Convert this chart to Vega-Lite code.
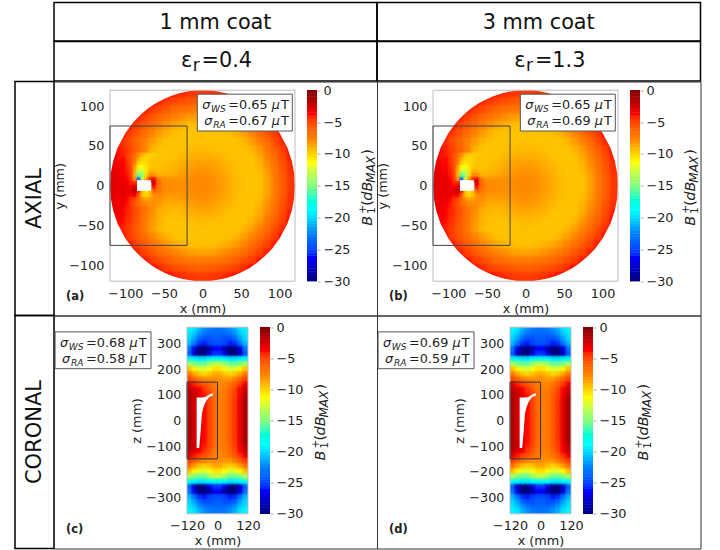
{"$schema":"https://vega.github.io/schema/vega-lite/v6.json","padding":{"left":14,"top":1.5,"right":0,"bottom":0},"autosize":{"type":"pad"},"background":"white","columns":3,"spacing":0,"bounds":"flush",
"config":{"font":"DejaVu Sans","view":{"stroke":null},"axis":{"labelFontSize":12.8,"titleFontSize":12.8,"titleFontWeight":"normal","labelColor":"#222","titleColor":"#222","tickColor":"#aaa","tickSize":3,"domain":false,"grid":false,"labelPadding":3,"titlePadding":2,"labelOverlap":false,"labelBound":false,"labelFlush":false,"tickCount":20,"zindex":1},"text":{"align":"left","baseline":"alphabetic","fontSize":12.8,"color":"#222"}},
"datasets":{
"one":[{"n":1}],
"cb":[{"v":-29.75},{"v":-29.25},{"v":-28.75},{"v":-28.25},{"v":-27.75},{"v":-27.25},{"v":-26.75},{"v":-26.25},{"v":-25.75},{"v":-25.25},{"v":-24.75},{"v":-24.25},{"v":-23.75},{"v":-23.25},{"v":-22.75},{"v":-22.25},{"v":-21.75},{"v":-21.25},{"v":-20.75},{"v":-20.25},{"v":-19.75},{"v":-19.25},{"v":-18.75},{"v":-18.25},{"v":-17.75},{"v":-17.25},{"v":-16.75},{"v":-16.25},{"v":-15.75},{"v":-15.25},{"v":-14.75},{"v":-14.25},{"v":-13.75},{"v":-13.25},{"v":-12.75},{"v":-12.25},{"v":-11.75},{"v":-11.25},{"v":-10.75},{"v":-10.25},{"v":-9.75},{"v":-9.25},{"v":-8.75},{"v":-8.25},{"v":-7.75},{"v":-7.25},{"v":-6.75},{"v":-6.25},{"v":-5.75},{"v":-5.25},{"v":-4.75},{"v":-4.25},{"v":-3.75},{"v":-3.25},{"v":-2.75},{"v":-2.25},{"v":-1.75},{"v":-1.25},{"v":-0.75},{"v":-0.25}],
"rim":[{"x":-126,"top":0,"bot":0},{"x":-120,"top":0,"bot":0},{"x":-119,"top":15.4,"bot":-15.4},{"x":-116,"top":30.7,"bot":-30.7},{"x":-110,"top":48,"bot":-48},{"x":-100,"top":66.3,"bot":-66.3},{"x":-90,"top":79.4,"bot":-79.4},{"x":-80,"top":89.4,"bot":-89.4},{"x":-70,"top":97.5,"bot":-97.5},{"x":-60,"top":103.9,"bot":-103.9},{"x":-50,"top":109.1,"bot":-109.1},{"x":-40,"top":113.1,"bot":-113.1},{"x":-30,"top":116.2,"bot":-116.2},{"x":-20,"top":118.3,"bot":-118.3},{"x":-10,"top":119.6,"bot":-119.6},{"x":0,"top":120,"bot":-120},{"x":10,"top":119.6,"bot":-119.6},{"x":20,"top":118.3,"bot":-118.3},{"x":30,"top":116.2,"bot":-116.2},{"x":40,"top":113.1,"bot":-113.1},{"x":50,"top":109.1,"bot":-109.1},{"x":60,"top":103.9,"bot":-103.9},{"x":70,"top":97.5,"bot":-97.5},{"x":80,"top":89.4,"bot":-89.4},{"x":90,"top":79.4,"bot":-79.4},{"x":100,"top":66.3,"bot":-66.3},{"x":110,"top":48,"bot":-48},{"x":116,"top":30.7,"bot":-30.7},{"x":119,"top":15.4,"bot":-15.4},{"x":120,"top":0,"bot":0},{"x":126,"top":0,"bot":0}],
"hole":[{"x":-82,"hi":90,"lo":-108},{"x":-72,"hi":90,"lo":-108},{"x":-66,"hi":90,"lo":-38},{"x":-61,"hi":90,"lo":28},{"x":-55,"hi":91,"lo":52},{"x":-49,"hi":92,"lo":67},{"x":-43,"hi":95,"lo":78},{"x":-37,"hi":99,"lo":87},{"x":-30,"hi":103,"lo":93},{"x":-18,"hi":107,"lo":98}],
"ax":[
{"x":-45,"y":115,"v":-3.7},{"x":-35,"y":115,"v":-4},{"x":-25,"y":115,"v":-4.3},{"x":-15,"y":115,"v":-4.5},{"x":-5,"y":115,"v":-4.6},{"x":5,"y":115,"v":-4.6},{"x":15,"y":115,"v":-4.5},{"x":25,"y":115,"v":-4.3},{"x":35,"y":115,"v":-4},{"x":45,"y":115,"v":-3.7},
{"x":-65,"y":105,"v":-3.7},{"x":-55,"y":105,"v":-4.2},{"x":-45,"y":105,"v":-4.7},{"x":-35,"y":105,"v":-5.1},{"x":-25,"y":105,"v":-5.4},{"x":-15,"y":105,"v":-5.7},{"x":-5,"y":105,"v":-5.9},{"x":5,"y":105,"v":-5.9},{"x":15,"y":105,"v":-5.7},{"x":25,"y":105,"v":-5.4},{"x":35,"y":105,"v":-5.1},{"x":45,"y":105,"v":-4.7},{"x":55,"y":105,"v":-4.2},{"x":65,"y":105,"v":-3.7},
{"x":-75,"y":95,"v":-3.9},{"x":-65,"y":95,"v":-4.6},{"x":-55,"y":95,"v":-5.2},{"x":-45,"y":95,"v":-5.9},{"x":-35,"y":95,"v":-6.4},{"x":-25,"y":95,"v":-6.8},{"x":-15,"y":95,"v":-7},{"x":-5,"y":95,"v":-7.2},{"x":5,"y":95,"v":-7.2},{"x":15,"y":95,"v":-7},{"x":25,"y":95,"v":-6.8},{"x":35,"y":95,"v":-6.4},{"x":45,"y":95,"v":-5.9},{"x":55,"y":95,"v":-5.2},{"x":65,"y":95,"v":-4.6},{"x":75,"y":95,"v":-3.9},
{"x":-85,"y":85,"v":-4},{"x":-75,"y":85,"v":-4.8},{"x":-65,"y":85,"v":-5.6},{"x":-55,"y":85,"v":-6.4},{"x":-45,"y":85,"v":-7},{"x":-35,"y":85,"v":-7.6},{"x":-25,"y":85,"v":-8},{"x":-15,"y":85,"v":-8.4},{"x":-5,"y":85,"v":-8.5},{"x":5,"y":85,"v":-8.5},{"x":15,"y":85,"v":-8.4},{"x":25,"y":85,"v":-8},{"x":35,"y":85,"v":-7.6},{"x":45,"y":85,"v":-7},{"x":55,"y":85,"v":-6.4},{"x":65,"y":85,"v":-5.6},{"x":75,"y":85,"v":-4.8},{"x":85,"y":85,"v":-4},
{"x":-95,"y":75,"v":-3.9},{"x":-85,"y":75,"v":-4.8},{"x":-75,"y":75,"v":-5.7},{"x":-65,"y":75,"v":-6.6},{"x":-55,"y":75,"v":-7.5},{"x":-45,"y":75,"v":-8.2},{"x":-35,"y":75,"v":-8.7},{"x":-25,"y":75,"v":-9},{"x":-15,"y":75,"v":-9.3},{"x":-5,"y":75,"v":-9.4},{"x":5,"y":75,"v":-9.4},{"x":15,"y":75,"v":-9.3},{"x":25,"y":75,"v":-9},{"x":35,"y":75,"v":-8.7},{"x":45,"y":75,"v":-8.2},{"x":55,"y":75,"v":-7.5},{"x":65,"y":75,"v":-6.6},{"x":75,"y":75,"v":-5.7},{"x":85,"y":75,"v":-4.8},{"x":95,"y":75,"v":-3.9},
{"x":-105,"y":65,"v":-3.7},{"x":-95,"y":65,"v":-4.6},{"x":-85,"y":65,"v":-5.6},{"x":-75,"y":65,"v":-6.6},{"x":-65,"y":65,"v":-7.6},{"x":-55,"y":65,"v":-8.4},{"x":-45,"y":65,"v":-9},{"x":-35,"y":65,"v":-9.4},{"x":-25,"y":65,"v":-9.5},{"x":-15,"y":65,"v":-9.5},{"x":-5,"y":65,"v":-9.5},{"x":5,"y":65,"v":-9.5},{"x":15,"y":65,"v":-9.5},{"x":25,"y":65,"v":-9.5},{"x":35,"y":65,"v":-9.4},{"x":45,"y":65,"v":-9},{"x":55,"y":65,"v":-8.4},{"x":65,"y":65,"v":-7.6},{"x":75,"y":65,"v":-6.6},{"x":85,"y":65,"v":-5.6},{"x":95,"y":65,"v":-4.6},{"x":105,"y":65,"v":-3.7},
{"x":-105,"y":55,"v":-4.2},{"x":-95,"y":55,"v":-5.2},{"x":-85,"y":55,"v":-6.4},{"x":-75,"y":55,"v":-7.5},{"x":-65,"y":55,"v":-8.4},{"x":-55,"y":55,"v":-9.1},{"x":-45,"y":55,"v":-9.5},{"x":-35,"y":55,"v":-9.5},{"x":-25,"y":55,"v":-9.5},{"x":-15,"y":55,"v":-9.5},{"x":-5,"y":55,"v":-9.4},{"x":5,"y":55,"v":-9.4},{"x":15,"y":55,"v":-9.5},{"x":25,"y":55,"v":-9.5},{"x":35,"y":55,"v":-9.5},{"x":45,"y":55,"v":-9.5},{"x":55,"y":55,"v":-9.1},{"x":65,"y":55,"v":-8.4},{"x":75,"y":55,"v":-7.5},{"x":85,"y":55,"v":-6.4},{"x":95,"y":55,"v":-5.2},{"x":105,"y":55,"v":-4.2},
{"x":-115,"y":45,"v":-3.3},{"x":-105,"y":45,"v":-4},{"x":-95,"y":45,"v":-4.8},{"x":-85,"y":45,"v":-6},{"x":-75,"y":45,"v":-7.5},{"x":-65,"y":45,"v":-9},{"x":-55,"y":45,"v":-9.5},{"x":-45,"y":45,"v":-9.5},{"x":-35,"y":45,"v":-9.5},{"x":-25,"y":45,"v":-9.4},{"x":-15,"y":45,"v":-9.3},{"x":-5,"y":45,"v":-9.2},{"x":5,"y":45,"v":-9.2},{"x":15,"y":45,"v":-9.3},{"x":25,"y":45,"v":-9.4},{"x":35,"y":45,"v":-9.5},{"x":45,"y":45,"v":-9.5},{"x":55,"y":45,"v":-9.5},{"x":65,"y":45,"v":-9},{"x":75,"y":45,"v":-8.2},{"x":85,"y":45,"v":-7},{"x":95,"y":45,"v":-5.9},{"x":105,"y":45,"v":-4.7},{"x":115,"y":45,"v":-3.7},
{"x":-115,"y":35,"v":-3.3},{"x":-105,"y":35,"v":-3.9},{"x":-55,"y":35,"v":-9.6},{"x":-45,"y":35,"v":-9.5},{"x":-35,"y":35,"v":-9.4},{"x":-25,"y":35,"v":-9.1},{"x":-15,"y":35,"v":-8.9},{"x":-5,"y":35,"v":-8.8},{"x":5,"y":35,"v":-8.8},{"x":15,"y":35,"v":-8.9},{"x":25,"y":35,"v":-9.1},{"x":35,"y":35,"v":-9.4},{"x":45,"y":35,"v":-9.5},{"x":55,"y":35,"v":-9.5},{"x":65,"y":35,"v":-9.4},{"x":75,"y":35,"v":-8.7},{"x":85,"y":35,"v":-7.6},{"x":95,"y":35,"v":-6.4},{"x":105,"y":35,"v":-5.1},{"x":115,"y":35,"v":-4},
{"x":-115,"y":25,"v":-3.2},{"x":-105,"y":25,"v":-3.7},{"x":-55,"y":25,"v":-9.5},{"x":-45,"y":25,"v":-9.3},{"x":-35,"y":25,"v":-9.1},{"x":-25,"y":25,"v":-8.8},{"x":-15,"y":25,"v":-8.5},{"x":-5,"y":25,"v":-8.3},{"x":5,"y":25,"v":-8.3},{"x":15,"y":25,"v":-8.5},{"x":25,"y":25,"v":-8.8},{"x":35,"y":25,"v":-9.1},{"x":45,"y":25,"v":-9.4},{"x":55,"y":25,"v":-9.5},{"x":65,"y":25,"v":-9.5},{"x":75,"y":25,"v":-9},{"x":85,"y":25,"v":-8},{"x":95,"y":25,"v":-6.8},{"x":105,"y":25,"v":-5.4},{"x":115,"y":25,"v":-4.3},
{"x":-115,"y":15,"v":-3.1},{"x":-105,"y":15,"v":-3.5},{"x":-55,"y":15,"v":-9.2},{"x":-45,"y":15,"v":-9},{"x":-35,"y":15,"v":-8.7},{"x":-25,"y":15,"v":-8.4},{"x":-15,"y":15,"v":-8.2},{"x":-5,"y":15,"v":-8},{"x":5,"y":15,"v":-8},{"x":15,"y":15,"v":-8.2},{"x":25,"y":15,"v":-8.5},{"x":35,"y":15,"v":-8.9},{"x":45,"y":15,"v":-9.3},{"x":55,"y":15,"v":-9.5},{"x":65,"y":15,"v":-9.5},{"x":75,"y":15,"v":-9.3},{"x":85,"y":15,"v":-8.4},{"x":95,"y":15,"v":-7},{"x":105,"y":15,"v":-5.7},{"x":115,"y":15,"v":-4.4},
{"x":-115,"y":5,"v":-2.9},{"x":-105,"y":5,"v":-3.2},{"x":-55,"y":5,"v":-7.7},{"x":-45,"y":5,"v":-7.9},{"x":-35,"y":5,"v":-8},{"x":-25,"y":5,"v":-8},{"x":-15,"y":5,"v":-7.9},{"x":-5,"y":5,"v":-7.8},{"x":5,"y":5,"v":-7.8},{"x":15,"y":5,"v":-8},{"x":25,"y":5,"v":-8.3},{"x":35,"y":5,"v":-8.8},{"x":45,"y":5,"v":-9.2},{"x":55,"y":5,"v":-9.4},{"x":65,"y":5,"v":-9.5},{"x":75,"y":5,"v":-9.4},{"x":85,"y":5,"v":-8.5},{"x":95,"y":5,"v":-7.2},{"x":105,"y":5,"v":-5.9},{"x":115,"y":5,"v":-4.5},
{"x":-115,"y":-5,"v":-2.9},{"x":-105,"y":-5,"v":-3.2},{"x":-55,"y":-5,"v":-7.5},{"x":-45,"y":-5,"v":-7.8},{"x":-35,"y":-5,"v":-7.9},{"x":-25,"y":-5,"v":-8},{"x":-15,"y":-5,"v":-7.9},{"x":-5,"y":-5,"v":-7.8},{"x":5,"y":-5,"v":-7.8},{"x":15,"y":-5,"v":-8},{"x":25,"y":-5,"v":-8.3},{"x":35,"y":-5,"v":-8.8},{"x":45,"y":-5,"v":-9.2},{"x":55,"y":-5,"v":-9.4},{"x":65,"y":-5,"v":-9.5},{"x":75,"y":-5,"v":-9.4},{"x":85,"y":-5,"v":-8.5},{"x":95,"y":-5,"v":-7.2},{"x":105,"y":-5,"v":-5.9},{"x":115,"y":-5,"v":-4.5},
{"x":-115,"y":-15,"v":-3},{"x":-105,"y":-15,"v":-3.4},{"x":-55,"y":-15,"v":-8},{"x":-45,"y":-15,"v":-8.3},{"x":-35,"y":-15,"v":-8.4},{"x":-25,"y":-15,"v":-8.2},{"x":-15,"y":-15,"v":-8.1},{"x":-5,"y":-15,"v":-8},{"x":5,"y":-15,"v":-8},{"x":15,"y":-15,"v":-8.2},{"x":25,"y":-15,"v":-8.5},{"x":35,"y":-15,"v":-8.9},{"x":45,"y":-15,"v":-9.3},{"x":55,"y":-15,"v":-9.5},{"x":65,"y":-15,"v":-9.5},{"x":75,"y":-15,"v":-9.3},{"x":85,"y":-15,"v":-8.4},{"x":95,"y":-15,"v":-7},{"x":105,"y":-15,"v":-5.7},{"x":115,"y":-15,"v":-4.4},
{"x":-115,"y":-25,"v":-3.1},{"x":-105,"y":-25,"v":-3.5},{"x":-95,"y":-25,"v":-4.2},{"x":-85,"y":-25,"v":-5.4},{"x":-75,"y":-25,"v":-6.8},{"x":-65,"y":-25,"v":-7.8},{"x":-55,"y":-25,"v":-8.6},{"x":-45,"y":-25,"v":-8.9},{"x":-35,"y":-25,"v":-8.9},{"x":-25,"y":-25,"v":-8.8},{"x":-15,"y":-25,"v":-8.5},{"x":-5,"y":-25,"v":-8.3},{"x":5,"y":-25,"v":-8.3},{"x":15,"y":-25,"v":-8.5},{"x":25,"y":-25,"v":-8.8},{"x":35,"y":-25,"v":-9.1},{"x":45,"y":-25,"v":-9.4},{"x":55,"y":-25,"v":-9.5},{"x":65,"y":-25,"v":-9.5},{"x":75,"y":-25,"v":-9},{"x":85,"y":-25,"v":-8},{"x":95,"y":-25,"v":-6.8},{"x":105,"y":-25,"v":-5.4},{"x":115,"y":-25,"v":-4.3},
{"x":-115,"y":-35,"v":-3.2},{"x":-105,"y":-35,"v":-3.6},{"x":-95,"y":-35,"v":-4.2},{"x":-85,"y":-35,"v":-5.4},{"x":-75,"y":-35,"v":-6.9},{"x":-65,"y":-35,"v":-8},{"x":-55,"y":-35,"v":-8.9},{"x":-45,"y":-35,"v":-9.2},{"x":-35,"y":-35,"v":-9.3},{"x":-25,"y":-35,"v":-9.1},{"x":-15,"y":-35,"v":-8.9},{"x":-5,"y":-35,"v":-8.8},{"x":5,"y":-35,"v":-8.8},{"x":15,"y":-35,"v":-8.9},{"x":25,"y":-35,"v":-9.1},{"x":35,"y":-35,"v":-9.4},{"x":45,"y":-35,"v":-9.5},{"x":55,"y":-35,"v":-9.5},{"x":65,"y":-35,"v":-9.4},{"x":75,"y":-35,"v":-8.7},{"x":85,"y":-35,"v":-7.6},{"x":95,"y":-35,"v":-6.4},{"x":105,"y":-35,"v":-5.1},{"x":115,"y":-35,"v":-4},
{"x":-115,"y":-45,"v":-3.4},{"x":-105,"y":-45,"v":-3.8},{"x":-95,"y":-45,"v":-4.4},{"x":-85,"y":-45,"v":-5.6},{"x":-75,"y":-45,"v":-7},{"x":-65,"y":-45,"v":-8.2},{"x":-55,"y":-45,"v":-9},{"x":-45,"y":-45,"v":-9.4},{"x":-35,"y":-45,"v":-9.5},{"x":-25,"y":-45,"v":-9.4},{"x":-15,"y":-45,"v":-9.3},{"x":-5,"y":-45,"v":-9.2},{"x":5,"y":-45,"v":-9.2},{"x":15,"y":-45,"v":-9.3},{"x":25,"y":-45,"v":-9.4},{"x":35,"y":-45,"v":-9.5},{"x":45,"y":-45,"v":-9.5},{"x":55,"y":-45,"v":-9.5},{"x":65,"y":-45,"v":-9},{"x":75,"y":-45,"v":-8.2},{"x":85,"y":-45,"v":-7},{"x":95,"y":-45,"v":-5.9},{"x":105,"y":-45,"v":-4.7},{"x":115,"y":-45,"v":-3.7},
{"x":-105,"y":-55,"v":-4},{"x":-95,"y":-55,"v":-4.7},{"x":-85,"y":-55,"v":-5.9},{"x":-75,"y":-55,"v":-7.2},{"x":-65,"y":-55,"v":-8.3},{"x":-55,"y":-55,"v":-9.2},{"x":-45,"y":-55,"v":-9.5},{"x":-35,"y":-55,"v":-9.5},{"x":-25,"y":-55,"v":-9.5},{"x":-15,"y":-55,"v":-9.5},{"x":-5,"y":-55,"v":-9.4},{"x":5,"y":-55,"v":-9.4},{"x":15,"y":-55,"v":-9.5},{"x":25,"y":-55,"v":-9.5},{"x":35,"y":-55,"v":-9.5},{"x":45,"y":-55,"v":-9.5},{"x":55,"y":-55,"v":-9.1},{"x":65,"y":-55,"v":-8.4},{"x":75,"y":-55,"v":-7.5},{"x":85,"y":-55,"v":-6.4},{"x":95,"y":-55,"v":-5.2},{"x":105,"y":-55,"v":-4.2},
{"x":-105,"y":-65,"v":-3.7},{"x":-95,"y":-65,"v":-4.6},{"x":-85,"y":-65,"v":-5.6},{"x":-75,"y":-65,"v":-6.6},{"x":-65,"y":-65,"v":-7.6},{"x":-55,"y":-65,"v":-8.4},{"x":-45,"y":-65,"v":-9},{"x":-35,"y":-65,"v":-9.4},{"x":-25,"y":-65,"v":-9.5},{"x":-15,"y":-65,"v":-9.5},{"x":-5,"y":-65,"v":-9.5},{"x":5,"y":-65,"v":-9.5},{"x":15,"y":-65,"v":-9.5},{"x":25,"y":-65,"v":-9.5},{"x":35,"y":-65,"v":-9.4},{"x":45,"y":-65,"v":-9},{"x":55,"y":-65,"v":-8.4},{"x":65,"y":-65,"v":-7.6},{"x":75,"y":-65,"v":-6.6},{"x":85,"y":-65,"v":-5.6},{"x":95,"y":-65,"v":-4.6},{"x":105,"y":-65,"v":-3.7},
{"x":-95,"y":-75,"v":-3.9},{"x":-85,"y":-75,"v":-4.8},{"x":-75,"y":-75,"v":-5.7},{"x":-65,"y":-75,"v":-6.6},{"x":-55,"y":-75,"v":-7.5},{"x":-45,"y":-75,"v":-8.2},{"x":-35,"y":-75,"v":-8.7},{"x":-25,"y":-75,"v":-9},{"x":-15,"y":-75,"v":-9.3},{"x":-5,"y":-75,"v":-9.4},{"x":5,"y":-75,"v":-9.4},{"x":15,"y":-75,"v":-9.3},{"x":25,"y":-75,"v":-9},{"x":35,"y":-75,"v":-8.7},{"x":45,"y":-75,"v":-8.2},{"x":55,"y":-75,"v":-7.5},{"x":65,"y":-75,"v":-6.6},{"x":75,"y":-75,"v":-5.7},{"x":85,"y":-75,"v":-4.8},{"x":95,"y":-75,"v":-3.9},
{"x":-85,"y":-85,"v":-4},{"x":-75,"y":-85,"v":-4.8},{"x":-65,"y":-85,"v":-5.6},{"x":-55,"y":-85,"v":-6.4},{"x":-45,"y":-85,"v":-7},{"x":-35,"y":-85,"v":-7.6},{"x":-25,"y":-85,"v":-8},{"x":-15,"y":-85,"v":-8.4},{"x":-5,"y":-85,"v":-8.5},{"x":5,"y":-85,"v":-8.5},{"x":15,"y":-85,"v":-8.4},{"x":25,"y":-85,"v":-8},{"x":35,"y":-85,"v":-7.6},{"x":45,"y":-85,"v":-7},{"x":55,"y":-85,"v":-6.4},{"x":65,"y":-85,"v":-5.6},{"x":75,"y":-85,"v":-4.8},{"x":85,"y":-85,"v":-4},
{"x":-75,"y":-95,"v":-3.9},{"x":-65,"y":-95,"v":-4.6},{"x":-55,"y":-95,"v":-5.2},{"x":-45,"y":-95,"v":-5.9},{"x":-35,"y":-95,"v":-6.4},{"x":-25,"y":-95,"v":-6.8},{"x":-15,"y":-95,"v":-7},{"x":-5,"y":-95,"v":-7.2},{"x":5,"y":-95,"v":-7.2},{"x":15,"y":-95,"v":-7},{"x":25,"y":-95,"v":-6.8},{"x":35,"y":-95,"v":-6.4},{"x":45,"y":-95,"v":-5.9},{"x":55,"y":-95,"v":-5.2},{"x":65,"y":-95,"v":-4.6},{"x":75,"y":-95,"v":-3.9},
{"x":-65,"y":-105,"v":-3.7},{"x":-55,"y":-105,"v":-4.2},{"x":-45,"y":-105,"v":-4.7},{"x":-35,"y":-105,"v":-5.1},{"x":-25,"y":-105,"v":-5.4},{"x":-15,"y":-105,"v":-5.7},{"x":-5,"y":-105,"v":-5.9},{"x":5,"y":-105,"v":-5.9},{"x":15,"y":-105,"v":-5.7},{"x":25,"y":-105,"v":-5.4},{"x":35,"y":-105,"v":-5.1},{"x":45,"y":-105,"v":-4.7},{"x":55,"y":-105,"v":-4.2},{"x":65,"y":-105,"v":-3.7},
{"x":-45,"y":-115,"v":-3.7},{"x":-35,"y":-115,"v":-4},{"x":-25,"y":-115,"v":-4.3},{"x":-15,"y":-115,"v":-4.5},{"x":-5,"y":-115,"v":-4.6},{"x":5,"y":-115,"v":-4.6},{"x":15,"y":-115,"v":-4.5},{"x":25,"y":-115,"v":-4.3},{"x":35,"y":-115,"v":-4},{"x":45,"y":-115,"v":-3.7}],
"axf":[
{"x":-102.5,"y":37.5,"v":-4},{"x":-97.5,"y":37.5,"v":-4.6},{"x":-92.5,"y":37.5,"v":-5.5},{"x":-87.5,"y":37.5,"v":-6.6},{"x":-82.5,"y":37.5,"v":-8},{"x":-77.5,"y":37.5,"v":-9.2},{"x":-72.5,"y":37.5,"v":-9.7},{"x":-67.5,"y":37.5,"v":-9.8},{"x":-62.5,"y":37.5,"v":-9.7},{"x":-57.5,"y":37.5,"v":-9.6},
{"x":-102.5,"y":32.5,"v":-3.8},{"x":-97.5,"y":32.5,"v":-4.5},{"x":-92.5,"y":32.5,"v":-5.4},{"x":-87.5,"y":32.5,"v":-7},{"x":-82.5,"y":32.5,"v":-9},{"x":-77.5,"y":32.5,"v":-10},{"x":-72.5,"y":32.5,"v":-10},{"x":-67.5,"y":32.5,"v":-9.8},{"x":-62.5,"y":32.5,"v":-9.6},{"x":-57.5,"y":32.5,"v":-9.5},
{"x":-102.5,"y":27.5,"v":-3.7},{"x":-97.5,"y":27.5,"v":-4.3},{"x":-92.5,"y":27.5,"v":-5.3},{"x":-87.5,"y":27.5,"v":-7.5},{"x":-82.5,"y":27.5,"v":-10},{"x":-77.5,"y":27.5,"v":-10.5},{"x":-72.5,"y":27.5,"v":-10.2},{"x":-67.5,"y":27.5,"v":-9.8},{"x":-62.5,"y":27.5,"v":-9.5},{"x":-57.5,"y":27.5,"v":-9.5},
{"x":-102.5,"y":22.5,"v":-3.6},{"x":-97.5,"y":22.5,"v":-4.2},{"x":-92.5,"y":22.5,"v":-5.2},{"x":-87.5,"y":22.5,"v":-8.5},{"x":-82.5,"y":22.5,"v":-11.5},{"x":-77.5,"y":22.5,"v":-11.5},{"x":-72.5,"y":22.5,"v":-10.5},{"x":-67.5,"y":22.5,"v":-9.6},{"x":-62.5,"y":22.5,"v":-9.4},{"x":-57.5,"y":22.5,"v":-9.4},
{"x":-102.5,"y":17.5,"v":-3.5},{"x":-97.5,"y":17.5,"v":-4},{"x":-92.5,"y":17.5,"v":-5},{"x":-87.5,"y":17.5,"v":-9},{"x":-82.5,"y":17.5,"v":-13},{"x":-77.5,"y":17.5,"v":-13},{"x":-72.5,"y":17.5,"v":-10.5},{"x":-67.5,"y":17.5,"v":-8.8},{"x":-62.5,"y":17.5,"v":-9},{"x":-57.5,"y":17.5,"v":-9.3},
{"x":-102.5,"y":12.5,"v":-3.4},{"x":-97.5,"y":12.5,"v":-3.9},{"x":-92.5,"y":12.5,"v":-4.8},{"x":-87.5,"y":12.5,"v":-9},{"x":-82.5,"y":12.5,"v":-16},{"x":-77.5,"y":12.5,"v":-14},{"x":-72.5,"y":12.5,"v":-10},{"x":-67.5,"y":12.5,"v":-7.5},{"x":-62.5,"y":12.5,"v":-7.8},{"x":-57.5,"y":12.5,"v":-8.8},
{"x":-102.5,"y":7.5,"v":-3.2},{"x":-97.5,"y":7.5,"v":-3.7},{"x":-92.5,"y":7.5,"v":-4.5},{"x":-87.5,"y":7.5,"v":-8},{"x":-82.5,"y":7.5,"v":-24},{"x":-77.5,"y":7.5,"v":-12},{"x":-72.5,"y":7.5,"v":-8},{"x":-67.5,"y":7.5,"v":-4},{"x":-62.5,"y":7.5,"v":-3},{"x":-57.5,"y":7.5,"v":-7},
{"x":-102.5,"y":2.5,"v":-3.1},{"x":-97.5,"y":2.5,"v":-3.5},{"x":-92.5,"y":2.5,"v":-4},{"x":-87.5,"y":2.5,"v":-4},{"x":-62.5,"y":2.5,"v":-2.5},{"x":-57.5,"y":2.5,"v":-6.5},
{"x":-102.5,"y":-2.5,"v":-3},{"x":-97.5,"y":-2.5,"v":-3.3},{"x":-92.5,"y":-2.5,"v":-3.5},{"x":-87.5,"y":-2.5,"v":-2.6},{"x":-62.5,"y":-2.5,"v":-4},{"x":-57.5,"y":-2.5,"v":-6.8},
{"x":-102.5,"y":-7.5,"v":-3},{"x":-97.5,"y":-7.5,"v":-3.2},{"x":-92.5,"y":-7.5,"v":-3},{"x":-87.5,"y":-7.5,"v":-1.6},{"x":-82.5,"y":-7.5,"v":-4},{"x":-77.5,"y":-7.5,"v":-9.5},{"x":-72.5,"y":-7.5,"v":-10.5},{"x":-67.5,"y":-7.5,"v":-9},{"x":-62.5,"y":-7.5,"v":-6},{"x":-57.5,"y":-7.5,"v":-7.2},
{"x":-102.5,"y":-12.5,"v":-3.1},{"x":-97.5,"y":-12.5,"v":-3.4},{"x":-92.5,"y":-12.5,"v":-3.8},{"x":-87.5,"y":-12.5,"v":-3.5},{"x":-82.5,"y":-12.5,"v":-6},{"x":-77.5,"y":-12.5,"v":-9.5},{"x":-72.5,"y":-12.5,"v":-10},{"x":-67.5,"y":-12.5,"v":-9.2},{"x":-62.5,"y":-12.5,"v":-8},{"x":-57.5,"y":-12.5,"v":-7.8},
{"x":-102.5,"y":-17.5,"v":-3.3},{"x":-97.5,"y":-17.5,"v":-3.7},{"x":-92.5,"y":-17.5,"v":-4.4},{"x":-87.5,"y":-17.5,"v":-5},{"x":-82.5,"y":-17.5,"v":-6.5},{"x":-77.5,"y":-17.5,"v":-8},{"x":-72.5,"y":-17.5,"v":-8.5},{"x":-67.5,"y":-17.5,"v":-8.4},{"x":-62.5,"y":-17.5,"v":-8},{"x":-57.5,"y":-17.5,"v":-8},
{"x":-102.5,"y":-22.5,"v":-3.4},{"x":-97.5,"y":-22.5,"v":-3.9},{"x":-92.5,"y":-22.5,"v":-4.6},{"x":-87.5,"y":-22.5,"v":-5.5},{"x":-82.5,"y":-22.5,"v":-6.5},{"x":-77.5,"y":-22.5,"v":-7.3},{"x":-72.5,"y":-22.5,"v":-7.8},{"x":-67.5,"y":-22.5,"v":-8},{"x":-62.5,"y":-22.5,"v":-8},{"x":-57.5,"y":-22.5,"v":-8.2}],
"cor":[
{"x":-110,"y":355,"v":-19},{"x":-90,"y":355,"v":-19.5},{"x":-70,"y":355,"v":-21},{"x":-50,"y":355,"v":-22},{"x":-30,"y":355,"v":-22.5},{"x":-10,"y":355,"v":-23},{"x":10,"y":355,"v":-23},{"x":30,"y":355,"v":-22.5},{"x":50,"y":355,"v":-22},{"x":70,"y":355,"v":-21},{"x":90,"y":355,"v":-19.5},{"x":110,"y":355,"v":-19},
{"x":-110,"y":340,"v":-19.5},{"x":-90,"y":340,"v":-20.5},{"x":-70,"y":340,"v":-22},{"x":-50,"y":340,"v":-23},{"x":-30,"y":340,"v":-23.5},{"x":-10,"y":340,"v":-23.5},{"x":10,"y":340,"v":-23.5},{"x":30,"y":340,"v":-23.5},{"x":50,"y":340,"v":-23},{"x":70,"y":340,"v":-22},{"x":90,"y":340,"v":-20.5},{"x":110,"y":340,"v":-19.5},
{"x":-110,"y":320,"v":-20},{"x":-90,"y":320,"v":-21.5},{"x":-70,"y":320,"v":-23.5},{"x":-50,"y":320,"v":-24.5},{"x":-30,"y":320,"v":-24.5},{"x":-10,"y":320,"v":-24},{"x":10,"y":320,"v":-24},{"x":30,"y":320,"v":-24.5},{"x":50,"y":320,"v":-24.5},{"x":70,"y":320,"v":-23.5},{"x":90,"y":320,"v":-21.5},{"x":110,"y":320,"v":-20},
{"x":-110,"y":300,"v":-21},{"x":-90,"y":300,"v":-23},{"x":-70,"y":300,"v":-25.5},{"x":-50,"y":300,"v":-26},{"x":-30,"y":300,"v":-25},{"x":-10,"y":300,"v":-24.5},{"x":10,"y":300,"v":-24.5},{"x":30,"y":300,"v":-25},{"x":50,"y":300,"v":-26},{"x":70,"y":300,"v":-25.5},{"x":90,"y":300,"v":-23},{"x":110,"y":300,"v":-21},
{"x":-110,"y":280,"v":-23},{"x":-90,"y":280,"v":-27},{"x":-70,"y":280,"v":-30},{"x":-50,"y":280,"v":-30},{"x":-30,"y":280,"v":-29},{"x":-10,"y":280,"v":-26.5},{"x":10,"y":280,"v":-26.5},{"x":30,"y":280,"v":-29},{"x":50,"y":280,"v":-30},{"x":70,"y":280,"v":-30},{"x":90,"y":280,"v":-27},{"x":110,"y":280,"v":-23},
{"x":-110,"y":260,"v":-24},{"x":-90,"y":260,"v":-28},{"x":-70,"y":260,"v":-30},{"x":-50,"y":260,"v":-30},{"x":-30,"y":260,"v":-27},{"x":-10,"y":260,"v":-25.5},{"x":10,"y":260,"v":-25.5},{"x":30,"y":260,"v":-27},{"x":50,"y":260,"v":-30},{"x":70,"y":260,"v":-30},{"x":90,"y":260,"v":-28},{"x":110,"y":260,"v":-24},
{"x":-110,"y":240,"v":-18},{"x":-90,"y":240,"v":-19},{"x":-70,"y":240,"v":-19.5},{"x":-50,"y":240,"v":-19.5},{"x":-30,"y":240,"v":-18.5},{"x":-10,"y":240,"v":-18},{"x":10,"y":240,"v":-18},{"x":30,"y":240,"v":-18.5},{"x":50,"y":240,"v":-19.5},{"x":70,"y":240,"v":-19.5},{"x":90,"y":240,"v":-19},{"x":110,"y":240,"v":-18},
{"x":-110,"y":220,"v":-13.5},{"x":-90,"y":220,"v":-15},{"x":-70,"y":220,"v":-15.5},{"x":-50,"y":220,"v":-15.5},{"x":-30,"y":220,"v":-14},{"x":-10,"y":220,"v":-13},{"x":10,"y":220,"v":-13},{"x":30,"y":220,"v":-14},{"x":50,"y":220,"v":-15.5},{"x":70,"y":220,"v":-15.5},{"x":90,"y":220,"v":-15},{"x":110,"y":220,"v":-13.5},
{"x":-110,"y":200,"v":-9.5},{"x":-90,"y":200,"v":-11},{"x":-70,"y":200,"v":-12},{"x":-50,"y":200,"v":-12.3},{"x":-30,"y":200,"v":-11.5},{"x":-10,"y":200,"v":-10.5},{"x":10,"y":200,"v":-10.5},{"x":30,"y":200,"v":-11.5},{"x":50,"y":200,"v":-12.3},{"x":70,"y":200,"v":-12},{"x":90,"y":200,"v":-11},{"x":110,"y":200,"v":-9.5},
{"x":-110,"y":180,"v":-7},{"x":-90,"y":180,"v":-8.5},{"x":-70,"y":180,"v":-9.5},{"x":-50,"y":180,"v":-10},{"x":-30,"y":180,"v":-9.5},{"x":-10,"y":180,"v":-8.7},{"x":10,"y":180,"v":-8.8},{"x":30,"y":180,"v":-9.5},{"x":50,"y":180,"v":-10},{"x":70,"y":180,"v":-9.5},{"x":90,"y":180,"v":-8.5},{"x":110,"y":180,"v":-7},
{"x":-110,"y":160,"v":-5},{"x":-90,"y":160,"v":-6},{"x":-70,"y":160,"v":-7},{"x":-50,"y":160,"v":-7.7},{"x":-30,"y":160,"v":-7.9},{"x":-10,"y":160,"v":-7.8},{"x":10,"y":160,"v":-8},{"x":30,"y":160,"v":-8.2},{"x":50,"y":160,"v":-8.2},{"x":70,"y":160,"v":-7.2},{"x":90,"y":160,"v":-6},{"x":110,"y":160,"v":-4.8},
{"x":-110,"y":140,"v":-3},{"x":-90,"y":140,"v":-4},{"x":-70,"y":140,"v":-4.8},{"x":-50,"y":140,"v":-5.5},{"x":-30,"y":140,"v":-6.3},{"x":-10,"y":140,"v":-7.3},{"x":10,"y":140,"v":-7.7},{"x":30,"y":140,"v":-7.6},{"x":50,"y":140,"v":-6.8},{"x":70,"y":140,"v":-5.8},{"x":90,"y":140,"v":-4.5},{"x":110,"y":140,"v":-3.2},
{"x":-110,"y":120,"v":-2},{"x":-90,"y":120,"v":-2.8},{"x":-70,"y":120,"v":-3.5},{"x":-50,"y":120,"v":-4.5},{"x":-30,"y":120,"v":-5.5},{"x":-10,"y":120,"v":-7},{"x":10,"y":120,"v":-7.6},{"x":30,"y":120,"v":-7.3},{"x":50,"y":120,"v":-6.3},{"x":70,"y":120,"v":-5},{"x":90,"y":120,"v":-3.6},{"x":110,"y":120,"v":-2.2},
{"x":-110,"y":100,"v":-1.5},{"x":-90,"y":100,"v":-2.2},{"x":-70,"y":100,"v":-3},{"x":-50,"y":100,"v":-4},{"x":-30,"y":100,"v":-5},{"x":-10,"y":100,"v":-6.5},{"x":10,"y":100,"v":-7.5},{"x":30,"y":100,"v":-7},{"x":50,"y":100,"v":-6},{"x":70,"y":100,"v":-4.7},{"x":90,"y":100,"v":-3.3},{"x":110,"y":100,"v":-1.8},
{"x":-110,"y":80,"v":-1.3},{"x":-90,"y":80,"v":-2.5},{"x":-70,"y":80,"v":-3},{"x":-50,"y":80,"v":-3.8},{"x":-30,"y":80,"v":-5},{"x":-10,"y":80,"v":-6.5},{"x":10,"y":80,"v":-7.5},{"x":30,"y":80,"v":-7},{"x":50,"y":80,"v":-5.8},{"x":70,"y":80,"v":-4.5},{"x":90,"y":80,"v":-3},{"x":110,"y":80,"v":-1.2},
{"x":-110,"y":60,"v":-1.3},{"x":-90,"y":60,"v":-2.5},{"x":-70,"y":60,"v":-3},{"x":-50,"y":60,"v":-3.8},{"x":-30,"y":60,"v":-5},{"x":-10,"y":60,"v":-6.5},{"x":10,"y":60,"v":-7.5},{"x":30,"y":60,"v":-7},{"x":50,"y":60,"v":-5.8},{"x":70,"y":60,"v":-4.5},{"x":90,"y":60,"v":-3},{"x":110,"y":60,"v":-1.2},
{"x":-110,"y":40,"v":-1.3},{"x":-90,"y":40,"v":-2.5},{"x":-70,"y":40,"v":-3},{"x":-50,"y":40,"v":-3.8},{"x":-30,"y":40,"v":-5},{"x":-10,"y":40,"v":-6.5},{"x":10,"y":40,"v":-7.5},{"x":30,"y":40,"v":-7},{"x":50,"y":40,"v":-5.8},{"x":70,"y":40,"v":-4.5},{"x":90,"y":40,"v":-3},{"x":110,"y":40,"v":-1.2},
{"x":-110,"y":20,"v":-1.3},{"x":-90,"y":20,"v":-2.5},{"x":-70,"y":20,"v":-3},{"x":-50,"y":20,"v":-3.8},{"x":-30,"y":20,"v":-5},{"x":-10,"y":20,"v":-6.5},{"x":10,"y":20,"v":-7.5},{"x":30,"y":20,"v":-7},{"x":50,"y":20,"v":-5.8},{"x":70,"y":20,"v":-4.5},{"x":90,"y":20,"v":-3},{"x":110,"y":20,"v":-1.2},
{"x":-110,"y":0,"v":-1.3},{"x":-90,"y":0,"v":-2.5},{"x":-70,"y":0,"v":-3},{"x":-50,"y":0,"v":-3.8},{"x":-30,"y":0,"v":-5},{"x":-10,"y":0,"v":-6.5},{"x":10,"y":0,"v":-7.5},{"x":30,"y":0,"v":-7},{"x":50,"y":0,"v":-5.8},{"x":70,"y":0,"v":-4.5},{"x":90,"y":0,"v":-3},{"x":110,"y":0,"v":-1.2},
{"x":-110,"y":-20,"v":-1.3},{"x":-90,"y":-20,"v":-2.5},{"x":-70,"y":-20,"v":-3},{"x":-50,"y":-20,"v":-3.8},{"x":-30,"y":-20,"v":-5},{"x":-10,"y":-20,"v":-6.5},{"x":10,"y":-20,"v":-7.5},{"x":30,"y":-20,"v":-7},{"x":50,"y":-20,"v":-5.8},{"x":70,"y":-20,"v":-4.5},{"x":90,"y":-20,"v":-3},{"x":110,"y":-20,"v":-1.2},
{"x":-110,"y":-40,"v":-1.3},{"x":-90,"y":-40,"v":-2.5},{"x":-70,"y":-40,"v":-3},{"x":-50,"y":-40,"v":-3.8},{"x":-30,"y":-40,"v":-5},{"x":-10,"y":-40,"v":-6.5},{"x":10,"y":-40,"v":-7.5},{"x":30,"y":-40,"v":-7},{"x":50,"y":-40,"v":-5.8},{"x":70,"y":-40,"v":-4.5},{"x":90,"y":-40,"v":-3},{"x":110,"y":-40,"v":-1.2},
{"x":-110,"y":-60,"v":-1.3},{"x":-90,"y":-60,"v":-2.5},{"x":-70,"y":-60,"v":-3},{"x":-50,"y":-60,"v":-3.8},{"x":-30,"y":-60,"v":-5},{"x":-10,"y":-60,"v":-6.5},{"x":10,"y":-60,"v":-7.5},{"x":30,"y":-60,"v":-7},{"x":50,"y":-60,"v":-5.8},{"x":70,"y":-60,"v":-4.5},{"x":90,"y":-60,"v":-3},{"x":110,"y":-60,"v":-1.2},
{"x":-110,"y":-80,"v":-1.3},{"x":-90,"y":-80,"v":-2.5},{"x":-70,"y":-80,"v":-3},{"x":-50,"y":-80,"v":-3.8},{"x":-30,"y":-80,"v":-5},{"x":-10,"y":-80,"v":-6.5},{"x":10,"y":-80,"v":-7.5},{"x":30,"y":-80,"v":-7},{"x":50,"y":-80,"v":-5.8},{"x":70,"y":-80,"v":-4.5},{"x":90,"y":-80,"v":-3},{"x":110,"y":-80,"v":-1.2},
{"x":-110,"y":-100,"v":-1.5},{"x":-90,"y":-100,"v":-2.2},{"x":-70,"y":-100,"v":-3},{"x":-50,"y":-100,"v":-4},{"x":-30,"y":-100,"v":-5},{"x":-10,"y":-100,"v":-6.5},{"x":10,"y":-100,"v":-7.5},{"x":30,"y":-100,"v":-7},{"x":50,"y":-100,"v":-6},{"x":70,"y":-100,"v":-4.7},{"x":90,"y":-100,"v":-3.3},{"x":110,"y":-100,"v":-1.8},
{"x":-110,"y":-120,"v":-2},{"x":-90,"y":-120,"v":-2.8},{"x":-70,"y":-120,"v":-3.5},{"x":-50,"y":-120,"v":-4.5},{"x":-30,"y":-120,"v":-5.5},{"x":-10,"y":-120,"v":-7},{"x":10,"y":-120,"v":-7.6},{"x":30,"y":-120,"v":-7.3},{"x":50,"y":-120,"v":-6.3},{"x":70,"y":-120,"v":-5},{"x":90,"y":-120,"v":-3.6},{"x":110,"y":-120,"v":-2.2},
{"x":-110,"y":-140,"v":-3},{"x":-90,"y":-140,"v":-4},{"x":-70,"y":-140,"v":-4.8},{"x":-50,"y":-140,"v":-5.5},{"x":-30,"y":-140,"v":-6.3},{"x":-10,"y":-140,"v":-7.3},{"x":10,"y":-140,"v":-7.7},{"x":30,"y":-140,"v":-7.6},{"x":50,"y":-140,"v":-6.8},{"x":70,"y":-140,"v":-5.8},{"x":90,"y":-140,"v":-4.5},{"x":110,"y":-140,"v":-3.2},
{"x":-110,"y":-160,"v":-5},{"x":-90,"y":-160,"v":-6},{"x":-70,"y":-160,"v":-7},{"x":-50,"y":-160,"v":-7.7},{"x":-30,"y":-160,"v":-7.9},{"x":-10,"y":-160,"v":-7.8},{"x":10,"y":-160,"v":-8},{"x":30,"y":-160,"v":-8.2},{"x":50,"y":-160,"v":-8.2},{"x":70,"y":-160,"v":-7.2},{"x":90,"y":-160,"v":-6},{"x":110,"y":-160,"v":-4.8},
{"x":-110,"y":-180,"v":-7},{"x":-90,"y":-180,"v":-8.5},{"x":-70,"y":-180,"v":-9.5},{"x":-50,"y":-180,"v":-10},{"x":-30,"y":-180,"v":-9.5},{"x":-10,"y":-180,"v":-8.7},{"x":10,"y":-180,"v":-8.8},{"x":30,"y":-180,"v":-9.5},{"x":50,"y":-180,"v":-10},{"x":70,"y":-180,"v":-9.5},{"x":90,"y":-180,"v":-8.5},{"x":110,"y":-180,"v":-7},
{"x":-110,"y":-200,"v":-9.5},{"x":-90,"y":-200,"v":-11},{"x":-70,"y":-200,"v":-12},{"x":-50,"y":-200,"v":-12.3},{"x":-30,"y":-200,"v":-11.5},{"x":-10,"y":-200,"v":-10.5},{"x":10,"y":-200,"v":-10.5},{"x":30,"y":-200,"v":-11.5},{"x":50,"y":-200,"v":-12.3},{"x":70,"y":-200,"v":-12},{"x":90,"y":-200,"v":-11},{"x":110,"y":-200,"v":-9.5},
{"x":-110,"y":-220,"v":-13.5},{"x":-90,"y":-220,"v":-15},{"x":-70,"y":-220,"v":-15.5},{"x":-50,"y":-220,"v":-15.5},{"x":-30,"y":-220,"v":-14},{"x":-10,"y":-220,"v":-13},{"x":10,"y":-220,"v":-13},{"x":30,"y":-220,"v":-14},{"x":50,"y":-220,"v":-15.5},{"x":70,"y":-220,"v":-15.5},{"x":90,"y":-220,"v":-15},{"x":110,"y":-220,"v":-13.5},
{"x":-110,"y":-240,"v":-18},{"x":-90,"y":-240,"v":-19},{"x":-70,"y":-240,"v":-19.5},{"x":-50,"y":-240,"v":-19.5},{"x":-30,"y":-240,"v":-18.5},{"x":-10,"y":-240,"v":-18},{"x":10,"y":-240,"v":-18},{"x":30,"y":-240,"v":-18.5},{"x":50,"y":-240,"v":-19.5},{"x":70,"y":-240,"v":-19.5},{"x":90,"y":-240,"v":-19},{"x":110,"y":-240,"v":-18},
{"x":-110,"y":-260,"v":-24},{"x":-90,"y":-260,"v":-28},{"x":-70,"y":-260,"v":-30},{"x":-50,"y":-260,"v":-30},{"x":-30,"y":-260,"v":-27},{"x":-10,"y":-260,"v":-25.5},{"x":10,"y":-260,"v":-25.5},{"x":30,"y":-260,"v":-27},{"x":50,"y":-260,"v":-30},{"x":70,"y":-260,"v":-30},{"x":90,"y":-260,"v":-28},{"x":110,"y":-260,"v":-24},
{"x":-110,"y":-280,"v":-23},{"x":-90,"y":-280,"v":-27},{"x":-70,"y":-280,"v":-30},{"x":-50,"y":-280,"v":-30},{"x":-30,"y":-280,"v":-29},{"x":-10,"y":-280,"v":-26.5},{"x":10,"y":-280,"v":-26.5},{"x":30,"y":-280,"v":-29},{"x":50,"y":-280,"v":-30},{"x":70,"y":-280,"v":-30},{"x":90,"y":-280,"v":-27},{"x":110,"y":-280,"v":-23},
{"x":-110,"y":-300,"v":-21},{"x":-90,"y":-300,"v":-23},{"x":-70,"y":-300,"v":-25.5},{"x":-50,"y":-300,"v":-26},{"x":-30,"y":-300,"v":-25},{"x":-10,"y":-300,"v":-24.5},{"x":10,"y":-300,"v":-24.5},{"x":30,"y":-300,"v":-25},{"x":50,"y":-300,"v":-26},{"x":70,"y":-300,"v":-25.5},{"x":90,"y":-300,"v":-23},{"x":110,"y":-300,"v":-21},
{"x":-110,"y":-320,"v":-20},{"x":-90,"y":-320,"v":-21.5},{"x":-70,"y":-320,"v":-23.5},{"x":-50,"y":-320,"v":-24.5},{"x":-30,"y":-320,"v":-24.5},{"x":-10,"y":-320,"v":-24},{"x":10,"y":-320,"v":-24},{"x":30,"y":-320,"v":-24.5},{"x":50,"y":-320,"v":-24.5},{"x":70,"y":-320,"v":-23.5},{"x":90,"y":-320,"v":-21.5},{"x":110,"y":-320,"v":-20},
{"x":-110,"y":-340,"v":-19.5},{"x":-90,"y":-340,"v":-20.5},{"x":-70,"y":-340,"v":-22},{"x":-50,"y":-340,"v":-23},{"x":-30,"y":-340,"v":-23.5},{"x":-10,"y":-340,"v":-23.5},{"x":10,"y":-340,"v":-23.5},{"x":30,"y":-340,"v":-23.5},{"x":50,"y":-340,"v":-23},{"x":70,"y":-340,"v":-22},{"x":90,"y":-340,"v":-20.5},{"x":110,"y":-340,"v":-19.5},
{"x":-110,"y":-355,"v":-19},{"x":-90,"y":-355,"v":-19.5},{"x":-70,"y":-355,"v":-21},{"x":-50,"y":-355,"v":-22},{"x":-30,"y":-355,"v":-22.5},{"x":-10,"y":-355,"v":-23},{"x":10,"y":-355,"v":-23},{"x":30,"y":-355,"v":-22.5},{"x":50,"y":-355,"v":-22},{"x":70,"y":-355,"v":-21},{"x":90,"y":-355,"v":-19.5},{"x":110,"y":-355,"v":-19}]
},
"concat":[
{"width":39,"height":38.5,"data":{"name":"one"},"mark":{"type":"text","text":""}},
{"width":323,"height":38.5,"view":{"stroke":"black","strokeWidth":1.5},"data":{"name":"one"},"mark":{"type":"text","text":"1 mm coat","align":"center","baseline":"middle","fontSize":20.8,"color":"#111","dy":1}},
{"width":323.5,"height":38.5,"view":{"stroke":"black","strokeWidth":1.5},"data":{"name":"one"},"mark":{"type":"text","text":"3 mm coat","align":"center","baseline":"middle","fontSize":20.8,"color":"#111","dy":1}},
{"width":39,"height":39.5,"data":{"name":"one"},"mark":{"type":"text","text":""}},
{"width":323,"height":39.5,"view":{"stroke":"black","strokeWidth":1.5},"data":{"name":"one"},"layer":[{"mark":{"type":"text","text":"ε","align":"center","baseline":"middle","fontSize":20.8,"color":"#111","dx":-28.8}},{"mark":{"type":"text","text":"r","align":"center","baseline":"middle","fontSize":17,"color":"#111","dx":-19.2,"dy":5}},{"mark":{"type":"text","text":"=0.4","align":"center","baseline":"middle","fontSize":20.8,"color":"#111","dx":11.3}}]},
{"width":323.5,"height":39.5,"view":{"stroke":"black","strokeWidth":1.5},"data":{"name":"one"},"layer":[{"mark":{"type":"text","text":"ε","align":"center","baseline":"middle","fontSize":20.8,"color":"#111","dx":-18.9}},{"mark":{"type":"text","text":"r","align":"center","baseline":"middle","fontSize":17,"color":"#111","dx":-9.2,"dy":5}},{"mark":{"type":"text","text":"=1.3","align":"center","baseline":"middle","fontSize":20.8,"color":"#111","dx":21.4}}]},
{"width":39,"height":234,"view":{"stroke":"black","strokeWidth":1.5},"data":{"name":"one"},"mark":{"type":"text","text":"AXIAL","angle":270,"align":"center","baseline":"middle","fontSize":21,"color":"#111"}},
{"width":323,"height":234,"view":{"stroke":"#333","strokeWidth":1},"resolve":{"scale":{"x":"independent","y":"independent"},"axis":{"x":"independent","y":"independent"}},"layer":[
{"layer":[
{"data":{"name":"ax"},"mark":{"type":"rect","width":8.2,"height":8.4},"encoding":{"x":{"field":"x","type":"quantitative","scale":{"domain":[-120,120],"range":[56,241],"nice":false},"axis":{"title":"x (mm)","values":[-100,-50,0,50,100],"offset":-34.3}},"y":{"field":"y","type":"quantitative","scale":{"domain":[-120,120],"range":[199.7,8.7],"nice":false},"axis":{"title":"y (mm)","values":[-100,-50,0,50,100],"offset":-56}},"color":{"field":"v","type":"quantitative","legend":null,"scale":{"domain":[-30,-26.25,-22.5,-18.75,-15,-11.25,-7.5,-3.75,0],"range":["#00007f","#0000ff","#007fff","#00ffff","#7fff7f","#ffff00","#ff7f00","#ff0000","#7f0000"]}}}},
{"data":{"name":"ax"},"mark":{"type":"rect","width":13.5,"height":14,"opacity":0.35},"encoding":{"x":{"field":"x","type":"quantitative"},"y":{"field":"y","type":"quantitative"},"color":{"field":"v","type":"quantitative"}}},
{"data":{"name":"ax"},"mark":{"type":"rect","width":9.6,"height":10,"opacity":0.5},"encoding":{"x":{"field":"x","type":"quantitative"},"y":{"field":"y","type":"quantitative"},"color":{"field":"v","type":"quantitative"}}},
{"data":{"name":"axf"},"mark":{"type":"rect","width":4.2,"height":4.3},"encoding":{"x":{"field":"x","type":"quantitative"},"y":{"field":"y","type":"quantitative"},"color":{"field":"v","type":"quantitative"}}},
{"data":{"name":"axf"},"mark":{"type":"rect","width":7,"height":7.2,"opacity":0.35},"encoding":{"x":{"field":"x","type":"quantitative"},"y":{"field":"y","type":"quantitative"},"color":{"field":"v","type":"quantitative"}}},
{"data":{"name":"axf"},"mark":{"type":"rect","width":5,"height":5.2,"opacity":0.5},"encoding":{"x":{"field":"x","type":"quantitative"},"y":{"field":"y","type":"quantitative"},"color":{"field":"v","type":"quantitative"}}},
{"data":{"name":"rim"},"mark":{"type":"area","color":"white"},"encoding":{"x":{"field":"x","type":"quantitative"},"y":{"field":"top","type":"quantitative"},"y2":{"datum":126}}},
{"data":{"name":"rim"},"mark":{"type":"area","color":"white"},"encoding":{"x":{"field":"x","type":"quantitative"},"y":{"field":"bot","type":"quantitative"},"y2":{"datum":-126}}},
{"data":{"name":"one"},"mark":{"type":"rect","color":"white"},"encoding":{"x":{"datum":-85},"x2":{"datum":-67},"y":{"datum":-6.5},"y2":{"datum":6.9}}},
{"data":{"name":"one"},"mark":{"type":"rect","fillOpacity":0,"stroke":"#bbb","strokeWidth":1},"encoding":{"x":{"datum":-120},"x2":{"datum":120},"y":{"datum":-120},"y2":{"datum":120}}},
{"data":{"name":"one"},"mark":{"type":"rect","fillOpacity":0,"stroke":"#444","strokeWidth":1},"encoding":{"x":{"datum":-120},"x2":{"datum":-20},"y":{"datum":-75},"y2":{"datum":75}}},
{"data":{"name":"one"},"mark":{"type":"rect","fill":"white","stroke":"#555","strokeWidth":1},"encoding":{"x":{"datum":-6.7},"x2":{"datum":116.5},"y":{"datum":68.7},"y2":{"datum":115}}},
{"data":{"name":"one"},"mark":{"type":"text","text":"(a)","fontFamily":"DejaVu Sans Mono","fontWeight":"bold","fontSize":11.5,"baseline":"middle"},"encoding":{"x":{"datum":-177},"y":{"datum":-139.4}}},
{"data":{"name":"one"},"encoding":{"x":{"datum":-6.7},"y":{"datum":115}},"layer":[
{"mark":{"type":"text","text":"σ","fontStyle":"italic","dx":5,"dy":15}},{"mark":{"type":"text","text":"WS","fontStyle":"italic","fontSize":9,"dx":13.7,"dy":18}},{"mark":{"type":"text","text":"=0.65","dx":31,"dy":15}},{"mark":{"type":"text","text":"μ","fontStyle":"italic","dx":74.4,"dy":15}},{"mark":{"type":"text","text":"T","dx":83.7,"dy":15}},
{"mark":{"type":"text","text":"σ","fontStyle":"italic","dx":7,"dy":31}},{"mark":{"type":"text","text":"RA","fontStyle":"italic","fontSize":9,"dx":16,"dy":34}},{"mark":{"type":"text","text":"=0.67","dx":31,"dy":31}},{"mark":{"type":"text","text":"μ","fontStyle":"italic","dx":74.4,"dy":31}},{"mark":{"type":"text","text":"T","dx":83.7,"dy":31}}]}
]},
{"layer":[
{"data":{"name":"cb"},"mark":{"type":"rect","height":3.6},"encoding":{"x":{"datum":0,"scale":{"domain":[0,1],"range":[253,263]},"axis":null},"x2":{"datum":1},"y":{"field":"v","type":"quantitative","scale":{"domain":[-30,0],"range":[199.7,8.7],"nice":false},"axis":{"orient":"right","offset":-60,"title":null,"values":[-30,-25,-20,-15,-10,-5,0]}},"color":{"field":"v","type":"quantitative","legend":null,"scale":{"domain":[-30,-26.25,-22.5,-18.75,-15,-11.25,-7.5,-3.75,0],"range":["#00007f","#0000ff","#007fff","#00ffff","#7fff7f","#ffff00","#ff7f00","#ff0000","#7f0000"]}}}},
{"data":{"name":"one"},"encoding":{"x":{"datum":6.5,"axis":null},"y":{"datum":-15}},"layer":[
{"mark":{"type":"text","text":"B","angle":270,"fontStyle":"italic","fontSize":14.5,"dx":-40}},{"mark":{"type":"text","text":"1","angle":270,"fontSize":10,"dx":-28,"dy":3}},{"mark":{"type":"text","text":"+","angle":270,"fontSize":10.5,"dx":-28,"dy":-6}},{"mark":{"type":"text","text":"(","angle":270,"fontSize":14.5,"dx":-20}},{"mark":{"type":"text","text":"dB","angle":270,"fontStyle":"italic","fontSize":14.5,"dx":-15}},{"mark":{"type":"text","text":"MAX","angle":270,"fontStyle":"italic","fontSize":12,"dx":3,"dy":3}},{"mark":{"type":"text","text":")","angle":270,"fontSize":14.5,"dx":31}}]}
]}
]},
{"width":323.5,"height":234,"view":{"stroke":"#333","strokeWidth":1},"resolve":{"scale":{"x":"independent","y":"independent"},"axis":{"x":"independent","y":"independent"}},"layer":[
{"layer":[
{"data":{"name":"ax"},"mark":{"type":"rect","width":8.2,"height":8.4},"encoding":{"x":{"field":"x","type":"quantitative","scale":{"domain":[-120,120],"range":[56,241],"nice":false},"axis":{"title":"x (mm)","values":[-100,-50,0,50,100],"offset":-34.3}},"y":{"field":"y","type":"quantitative","scale":{"domain":[-120,120],"range":[199.7,8.7],"nice":false},"axis":{"title":"y (mm)","values":[-100,-50,0,50,100],"offset":-56}},"color":{"field":"v","type":"quantitative","legend":null,"scale":{"domain":[-30,-26.25,-22.5,-18.75,-15,-11.25,-7.5,-3.75,0],"range":["#00007f","#0000ff","#007fff","#00ffff","#7fff7f","#ffff00","#ff7f00","#ff0000","#7f0000"]}}}},
{"data":{"name":"ax"},"mark":{"type":"rect","width":13.5,"height":14,"opacity":0.35},"encoding":{"x":{"field":"x","type":"quantitative"},"y":{"field":"y","type":"quantitative"},"color":{"field":"v","type":"quantitative"}}},
{"data":{"name":"ax"},"mark":{"type":"rect","width":9.6,"height":10,"opacity":0.5},"encoding":{"x":{"field":"x","type":"quantitative"},"y":{"field":"y","type":"quantitative"},"color":{"field":"v","type":"quantitative"}}},
{"data":{"name":"axf"},"mark":{"type":"rect","width":4.2,"height":4.3},"encoding":{"x":{"field":"x","type":"quantitative"},"y":{"field":"y","type":"quantitative"},"color":{"field":"v","type":"quantitative"}}},
{"data":{"name":"axf"},"mark":{"type":"rect","width":7,"height":7.2,"opacity":0.35},"encoding":{"x":{"field":"x","type":"quantitative"},"y":{"field":"y","type":"quantitative"},"color":{"field":"v","type":"quantitative"}}},
{"data":{"name":"axf"},"mark":{"type":"rect","width":5,"height":5.2,"opacity":0.5},"encoding":{"x":{"field":"x","type":"quantitative"},"y":{"field":"y","type":"quantitative"},"color":{"field":"v","type":"quantitative"}}},
{"data":{"name":"rim"},"mark":{"type":"area","color":"white"},"encoding":{"x":{"field":"x","type":"quantitative"},"y":{"field":"top","type":"quantitative"},"y2":{"datum":126}}},
{"data":{"name":"rim"},"mark":{"type":"area","color":"white"},"encoding":{"x":{"field":"x","type":"quantitative"},"y":{"field":"bot","type":"quantitative"},"y2":{"datum":-126}}},
{"data":{"name":"one"},"mark":{"type":"rect","color":"white"},"encoding":{"x":{"datum":-85},"x2":{"datum":-67},"y":{"datum":-6.5},"y2":{"datum":6.9}}},
{"data":{"name":"one"},"mark":{"type":"rect","fillOpacity":0,"stroke":"#bbb","strokeWidth":1},"encoding":{"x":{"datum":-120},"x2":{"datum":120},"y":{"datum":-120},"y2":{"datum":120}}},
{"data":{"name":"one"},"mark":{"type":"rect","fillOpacity":0,"stroke":"#444","strokeWidth":1},"encoding":{"x":{"datum":-120},"x2":{"datum":-20},"y":{"datum":-75},"y2":{"datum":75}}},
{"data":{"name":"one"},"mark":{"type":"rect","fill":"white","stroke":"#555","strokeWidth":1},"encoding":{"x":{"datum":-6.7},"x2":{"datum":116.5},"y":{"datum":68.7},"y2":{"datum":115}}},
{"data":{"name":"one"},"mark":{"type":"text","text":"(b)","fontFamily":"DejaVu Sans Mono","fontWeight":"bold","fontSize":11.5,"baseline":"middle"},"encoding":{"x":{"datum":-177},"y":{"datum":-139.4}}},
{"data":{"name":"one"},"encoding":{"x":{"datum":-6.7},"y":{"datum":115}},"layer":[
{"mark":{"type":"text","text":"σ","fontStyle":"italic","dx":5,"dy":15}},{"mark":{"type":"text","text":"WS","fontStyle":"italic","fontSize":9,"dx":13.7,"dy":18}},{"mark":{"type":"text","text":"=0.65","dx":31,"dy":15}},{"mark":{"type":"text","text":"μ","fontStyle":"italic","dx":74.4,"dy":15}},{"mark":{"type":"text","text":"T","dx":83.7,"dy":15}},
{"mark":{"type":"text","text":"σ","fontStyle":"italic","dx":7,"dy":31}},{"mark":{"type":"text","text":"RA","fontStyle":"italic","fontSize":9,"dx":16,"dy":34}},{"mark":{"type":"text","text":"=0.69","dx":31,"dy":31}},{"mark":{"type":"text","text":"μ","fontStyle":"italic","dx":74.4,"dy":31}},{"mark":{"type":"text","text":"T","dx":83.7,"dy":31}}]}
]},
{"layer":[
{"data":{"name":"cb"},"mark":{"type":"rect","height":3.6},"encoding":{"x":{"datum":0,"scale":{"domain":[0,1],"range":[253,263]},"axis":null},"x2":{"datum":1},"y":{"field":"v","type":"quantitative","scale":{"domain":[-30,0],"range":[199.7,8.7],"nice":false},"axis":{"orient":"right","offset":-60.5,"title":null,"values":[-30,-25,-20,-15,-10,-5,0]}},"color":{"field":"v","type":"quantitative","legend":null,"scale":{"domain":[-30,-26.25,-22.5,-18.75,-15,-11.25,-7.5,-3.75,0],"range":["#00007f","#0000ff","#007fff","#00ffff","#7fff7f","#ffff00","#ff7f00","#ff0000","#7f0000"]}}}},
{"data":{"name":"one"},"encoding":{"x":{"datum":6.5,"axis":null},"y":{"datum":-15}},"layer":[
{"mark":{"type":"text","text":"B","angle":270,"fontStyle":"italic","fontSize":14.5,"dx":-40}},{"mark":{"type":"text","text":"1","angle":270,"fontSize":10,"dx":-28,"dy":3}},{"mark":{"type":"text","text":"+","angle":270,"fontSize":10.5,"dx":-28,"dy":-6}},{"mark":{"type":"text","text":"(","angle":270,"fontSize":14.5,"dx":-20}},{"mark":{"type":"text","text":"dB","angle":270,"fontStyle":"italic","fontSize":14.5,"dx":-15}},{"mark":{"type":"text","text":"MAX","angle":270,"fontStyle":"italic","fontSize":12,"dx":3,"dy":3}},{"mark":{"type":"text","text":")","angle":270,"fontSize":14.5,"dx":31}}]}
]}
]},
{"width":39,"height":233,"view":{"stroke":"black","strokeWidth":1.5},"data":{"name":"one"},"mark":{"type":"text","text":"CORONAL","angle":270,"align":"center","baseline":"middle","fontSize":21,"color":"#111"}},
{"width":323,"height":233,"view":{"stroke":"#333","strokeWidth":1},"resolve":{"scale":{"x":"independent","y":"independent"},"axis":{"x":"independent","y":"independent"}},"layer":[
{"layer":[
{"data":{"name":"cor"},"mark":{"type":"rect","width":5.4,"height":5.5},"encoding":{"x":{"field":"x","type":"quantitative","scale":{"domain":[-120,120],"range":[133,194],"nice":false},"axis":{"title":"x (mm)","values":[-120,0,120],"offset":-34.7}},"y":{"field":"y","type":"quantitative","scale":{"domain":[-365,365],"range":[198.3,11.7],"nice":false},"axis":{"title":"z (mm)","values":[-300,-200,-100,0,100,200,300],"offset":-133}},"color":{"field":"v","type":"quantitative","legend":null,"scale":{"domain":[-30,-26.25,-22.5,-18.75,-15,-11.25,-7.5,-3.75,0],"range":["#00007f","#0000ff","#007fff","#00ffff","#7fff7f","#ffff00","#ff7f00","#ff0000","#7f0000"]}}}},
{"data":{"name":"cor"},"mark":{"type":"rect","width":8.9,"height":9,"opacity":0.35},"encoding":{"x":{"field":"x","type":"quantitative"},"y":{"field":"y","type":"quantitative"},"color":{"field":"v","type":"quantitative"}}},
{"data":{"name":"cor"},"mark":{"type":"rect","width":6.3,"height":6.4,"opacity":0.5},"encoding":{"x":{"field":"x","type":"quantitative"},"y":{"field":"y","type":"quantitative"},"color":{"field":"v","type":"quantitative"}}},
{"data":{"name":"one"},"mark":{"type":"rect","color":"white"},"encoding":{"x":{"datum":-145},"x2":{"datum":-120},"y":{"datum":-385},"y2":{"datum":385}}},
{"data":{"name":"one"},"mark":{"type":"rect","color":"white"},"encoding":{"x":{"datum":120},"x2":{"datum":145},"y":{"datum":-385},"y2":{"datum":385}}},
{"data":{"name":"one"},"mark":{"type":"rect","color":"white"},"encoding":{"x":{"datum":-145},"x2":{"datum":145},"y":{"datum":365},"y2":{"datum":385}}},
{"data":{"name":"one"},"mark":{"type":"rect","color":"white"},"encoding":{"x":{"datum":-145},"x2":{"datum":145},"y":{"datum":-385},"y2":{"datum":-365}}},
{"data":{"name":"hole"},"mark":{"type":"area","color":"white"},"encoding":{"x":{"field":"x","type":"quantitative"},"y":{"field":"lo","type":"quantitative"},"y2":{"field":"hi"}}},
{"data":{"name":"one"},"mark":{"type":"rect","fillOpacity":0,"stroke":"#bbb","strokeWidth":1},"encoding":{"x":{"datum":-120},"x2":{"datum":120},"y":{"datum":-365},"y2":{"datum":365}}},
{"data":{"name":"one"},"mark":{"type":"rect","fillOpacity":0,"stroke":"#333","strokeWidth":1},"encoding":{"x":{"datum":-120},"x2":{"datum":0},"y":{"datum":-150},"y2":{"datum":150}}},
{"data":{"name":"one"},"mark":{"type":"rect","fill":"white","stroke":"#555","strokeWidth":1},"encoding":{"x":{"datum":-639},"x2":{"datum":-261.6},"y":{"datum":202.6},"y2":{"datum":346.7}}},
{"data":{"name":"one"},"mark":{"type":"text","text":"(c)","fontFamily":"DejaVu Sans Mono","fontWeight":"bold","fontSize":11.5,"baseline":"middle"},"encoding":{"x":{"datum":-596},"y":{"datum":-427}}},
{"data":{"name":"one"},"encoding":{"x":{"datum":-639},"y":{"datum":346.7}},"layer":[
{"mark":{"type":"text","text":"σ","fontStyle":"italic","dx":5,"dy":15}},{"mark":{"type":"text","text":"WS","fontStyle":"italic","fontSize":9,"dx":13.7,"dy":18}},{"mark":{"type":"text","text":"=0.68","dx":31,"dy":15}},{"mark":{"type":"text","text":"μ","fontStyle":"italic","dx":74.4,"dy":15}},{"mark":{"type":"text","text":"T","dx":83.7,"dy":15}},
{"mark":{"type":"text","text":"σ","fontStyle":"italic","dx":7,"dy":31}},{"mark":{"type":"text","text":"RA","fontStyle":"italic","fontSize":9,"dx":16,"dy":34}},{"mark":{"type":"text","text":"=0.58","dx":31,"dy":31}},{"mark":{"type":"text","text":"μ","fontStyle":"italic","dx":74.4,"dy":31}},{"mark":{"type":"text","text":"T","dx":83.7,"dy":31}}]}
]},
{"layer":[
{"data":{"name":"cb"},"mark":{"type":"rect","height":3.6},"encoding":{"x":{"datum":0,"scale":{"domain":[0,1],"range":[206,216]},"axis":null},"x2":{"datum":1},"y":{"field":"v","type":"quantitative","scale":{"domain":[-30,0],"range":[198.3,11.7],"nice":false},"axis":{"orient":"right","offset":-107,"title":null,"values":[-30,-25,-20,-15,-10,-5,0]}},"color":{"field":"v","type":"quantitative","legend":null,"scale":{"domain":[-30,-26.25,-22.5,-18.75,-15,-11.25,-7.5,-3.75,0],"range":["#00007f","#0000ff","#007fff","#00ffff","#7fff7f","#ffff00","#ff7f00","#ff0000","#7f0000"]}}}},
{"data":{"name":"one"},"encoding":{"x":{"datum":6.5,"axis":null},"y":{"datum":-15}},"layer":[
{"mark":{"type":"text","text":"B","angle":270,"fontStyle":"italic","fontSize":14.5,"dx":-40}},{"mark":{"type":"text","text":"1","angle":270,"fontSize":10,"dx":-28,"dy":3}},{"mark":{"type":"text","text":"+","angle":270,"fontSize":10.5,"dx":-28,"dy":-6}},{"mark":{"type":"text","text":"(","angle":270,"fontSize":14.5,"dx":-20}},{"mark":{"type":"text","text":"dB","angle":270,"fontStyle":"italic","fontSize":14.5,"dx":-15}},{"mark":{"type":"text","text":"MAX","angle":270,"fontStyle":"italic","fontSize":12,"dx":3,"dy":3}},{"mark":{"type":"text","text":")","angle":270,"fontSize":14.5,"dx":31}}]}
]}
]},
{"width":323.5,"height":233,"view":{"stroke":"#333","strokeWidth":1},"resolve":{"scale":{"x":"independent","y":"independent"},"axis":{"x":"independent","y":"independent"}},"layer":[
{"layer":[
{"data":{"name":"cor"},"mark":{"type":"rect","width":5.4,"height":5.5},"encoding":{"x":{"field":"x","type":"quantitative","scale":{"domain":[-120,120],"range":[133,194],"nice":false},"axis":{"title":"x (mm)","values":[-120,0,120],"offset":-34.7}},"y":{"field":"y","type":"quantitative","scale":{"domain":[-365,365],"range":[198.3,11.7],"nice":false},"axis":{"title":"z (mm)","values":[-300,-200,-100,0,100,200,300],"offset":-133}},"color":{"field":"v","type":"quantitative","legend":null,"scale":{"domain":[-30,-26.25,-22.5,-18.75,-15,-11.25,-7.5,-3.75,0],"range":["#00007f","#0000ff","#007fff","#00ffff","#7fff7f","#ffff00","#ff7f00","#ff0000","#7f0000"]}}}},
{"data":{"name":"cor"},"mark":{"type":"rect","width":8.9,"height":9,"opacity":0.35},"encoding":{"x":{"field":"x","type":"quantitative"},"y":{"field":"y","type":"quantitative"},"color":{"field":"v","type":"quantitative"}}},
{"data":{"name":"cor"},"mark":{"type":"rect","width":6.3,"height":6.4,"opacity":0.5},"encoding":{"x":{"field":"x","type":"quantitative"},"y":{"field":"y","type":"quantitative"},"color":{"field":"v","type":"quantitative"}}},
{"data":{"name":"one"},"mark":{"type":"rect","color":"white"},"encoding":{"x":{"datum":-145},"x2":{"datum":-120},"y":{"datum":-385},"y2":{"datum":385}}},
{"data":{"name":"one"},"mark":{"type":"rect","color":"white"},"encoding":{"x":{"datum":120},"x2":{"datum":145},"y":{"datum":-385},"y2":{"datum":385}}},
{"data":{"name":"one"},"mark":{"type":"rect","color":"white"},"encoding":{"x":{"datum":-145},"x2":{"datum":145},"y":{"datum":365},"y2":{"datum":385}}},
{"data":{"name":"one"},"mark":{"type":"rect","color":"white"},"encoding":{"x":{"datum":-145},"x2":{"datum":145},"y":{"datum":-385},"y2":{"datum":-365}}},
{"data":{"name":"hole"},"mark":{"type":"area","color":"white"},"encoding":{"x":{"field":"x","type":"quantitative"},"y":{"field":"lo","type":"quantitative"},"y2":{"field":"hi"}}},
{"data":{"name":"one"},"mark":{"type":"rect","fillOpacity":0,"stroke":"#bbb","strokeWidth":1},"encoding":{"x":{"datum":-120},"x2":{"datum":120},"y":{"datum":-365},"y2":{"datum":365}}},
{"data":{"name":"one"},"mark":{"type":"rect","fillOpacity":0,"stroke":"#333","strokeWidth":1},"encoding":{"x":{"datum":-120},"x2":{"datum":0},"y":{"datum":-150},"y2":{"datum":150}}},
{"data":{"name":"one"},"mark":{"type":"rect","fill":"white","stroke":"#555","strokeWidth":1},"encoding":{"x":{"datum":-639},"x2":{"datum":-261.6},"y":{"datum":202.6},"y2":{"datum":346.7}}},
{"data":{"name":"one"},"mark":{"type":"text","text":"(d)","fontFamily":"DejaVu Sans Mono","fontWeight":"bold","fontSize":11.5,"baseline":"middle"},"encoding":{"x":{"datum":-596},"y":{"datum":-427}}},
{"data":{"name":"one"},"encoding":{"x":{"datum":-639},"y":{"datum":346.7}},"layer":[
{"mark":{"type":"text","text":"σ","fontStyle":"italic","dx":5,"dy":15}},{"mark":{"type":"text","text":"WS","fontStyle":"italic","fontSize":9,"dx":13.7,"dy":18}},{"mark":{"type":"text","text":"=0.69","dx":31,"dy":15}},{"mark":{"type":"text","text":"μ","fontStyle":"italic","dx":74.4,"dy":15}},{"mark":{"type":"text","text":"T","dx":83.7,"dy":15}},
{"mark":{"type":"text","text":"σ","fontStyle":"italic","dx":7,"dy":31}},{"mark":{"type":"text","text":"RA","fontStyle":"italic","fontSize":9,"dx":16,"dy":34}},{"mark":{"type":"text","text":"=0.59","dx":31,"dy":31}},{"mark":{"type":"text","text":"μ","fontStyle":"italic","dx":74.4,"dy":31}},{"mark":{"type":"text","text":"T","dx":83.7,"dy":31}}]}
]},
{"layer":[
{"data":{"name":"cb"},"mark":{"type":"rect","height":3.6},"encoding":{"x":{"datum":0,"scale":{"domain":[0,1],"range":[206,216]},"axis":null},"x2":{"datum":1},"y":{"field":"v","type":"quantitative","scale":{"domain":[-30,0],"range":[198.3,11.7],"nice":false},"axis":{"orient":"right","offset":-107.5,"title":null,"values":[-30,-25,-20,-15,-10,-5,0]}},"color":{"field":"v","type":"quantitative","legend":null,"scale":{"domain":[-30,-26.25,-22.5,-18.75,-15,-11.25,-7.5,-3.75,0],"range":["#00007f","#0000ff","#007fff","#00ffff","#7fff7f","#ffff00","#ff7f00","#ff0000","#7f0000"]}}}},
{"data":{"name":"one"},"encoding":{"x":{"datum":6.5,"axis":null},"y":{"datum":-15}},"layer":[
{"mark":{"type":"text","text":"B","angle":270,"fontStyle":"italic","fontSize":14.5,"dx":-40}},{"mark":{"type":"text","text":"1","angle":270,"fontSize":10,"dx":-28,"dy":3}},{"mark":{"type":"text","text":"+","angle":270,"fontSize":10.5,"dx":-28,"dy":-6}},{"mark":{"type":"text","text":"(","angle":270,"fontSize":14.5,"dx":-20}},{"mark":{"type":"text","text":"dB","angle":270,"fontStyle":"italic","fontSize":14.5,"dx":-15}},{"mark":{"type":"text","text":"MAX","angle":270,"fontStyle":"italic","fontSize":12,"dx":3,"dy":3}},{"mark":{"type":"text","text":")","angle":270,"fontSize":14.5,"dx":31}}]}
]}
]}
]}
